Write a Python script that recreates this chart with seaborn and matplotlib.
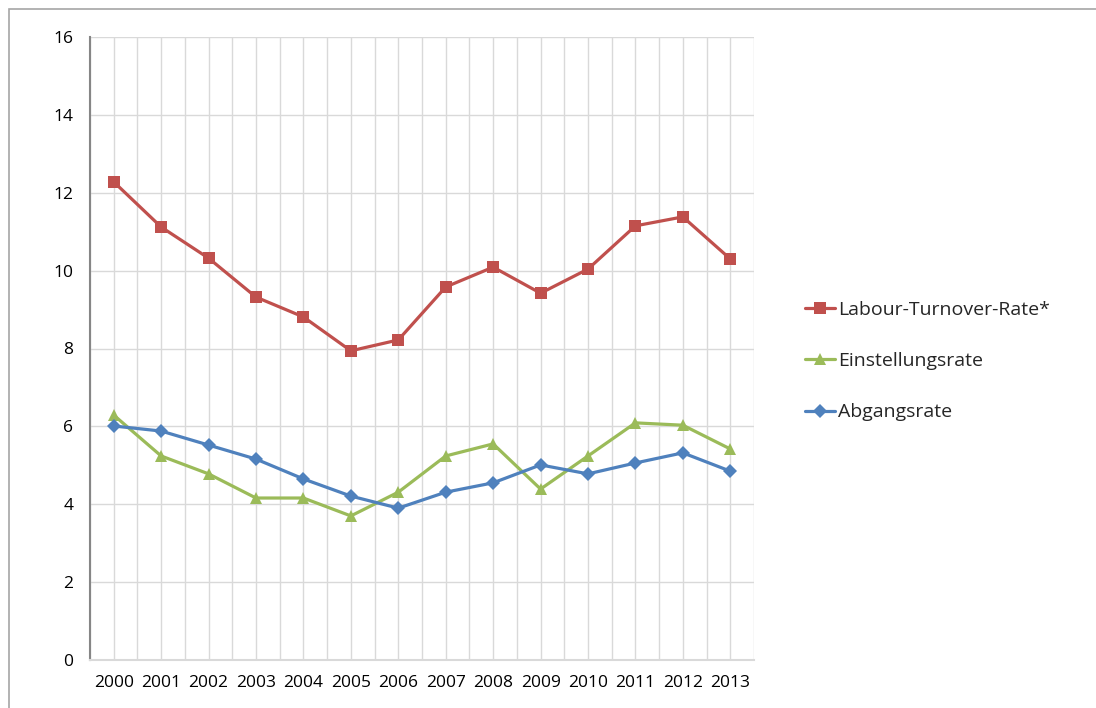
import numpy as np
import pandas as pd
import seaborn as sns
import matplotlib.pyplot as plt
from matplotlib.patches import Rectangle
from matplotlib.lines import Line2D

# Data
years = list(range(2000, 2014))
turnover = [12.28, 11.12, 10.32, 9.32, 8.81, 7.94, 8.22, 9.58, 10.09, 9.42, 10.04, 11.15, 11.38, 10.30]
einstellung = [6.29, 5.24, 4.78, 4.16, 4.16, 3.70, 4.31, 5.24, 5.55, 4.39, 5.24, 6.09, 6.03, 5.42]
abgang = [6.01, 5.88, 5.52, 5.16, 4.65, 4.21, 3.90, 4.31, 4.55, 5.01, 4.78, 5.06, 5.32, 4.85]
series = ['Labour-Turnover-Rate*', 'Einstellungsrate', 'Abgangsrate']
colors = ['#C0504D', '#9BBB59', '#4F81BD']
markers = ['s', '^', 'D']
msizes = [8.5, 9, 7]

df = pd.DataFrame({
    'Jahr': years * 3,
    'Wert': turnover + einstellung + abgang,
    'Serie': [s for s in series for _ in years],
})

sns.set_style('white')
plt.rcParams['font.family'] = ['Open Sans', 'DejaVu Sans']

fig = plt.figure(figsize=(10.96, 7.08), dpi=100)
ax = fig.add_axes([90 / 1096, 1 - 660 / 708, 664 / 1096, 623 / 708])

for s, c, m, ms in zip(series, colors, markers, msizes):
    sns.lineplot(data=df[df['Serie'] == s], x='Jahr', y='Wert', color=c,
                 marker=m, markersize=ms, markeredgewidth=0, linewidth=2.3,
                 ax=ax, zorder=3)

ax.set_xlim(1999.5, 2013.5)
ax.set_ylim(0, 16)
ax.set_xticks(years)
ax.set_xticklabels([str(y) for y in years])
ax.set_xticks(np.arange(1999.5, 2014, 1), minor=True)
ax.set_yticks(range(0, 17, 2))
ax.set_xlabel('')
ax.set_ylabel('')

ax.tick_params(axis='x', which='major', length=0, pad=11, labelsize=12.5, colors='#000000')
ax.tick_params(axis='x', which='minor', length=5, width=1, color='#D9D9D9', direction='out')
ax.tick_params(axis='y', length=4, width=1, color='#868686', direction='out', pad=8,
               labelsize=12.5, labelcolor='#000000')

ax.grid(True, which='both', axis='x', color='#D9D9D9', lw=1)
ax.grid(True, which='major', axis='y', color='#D9D9D9', lw=1)

for side in ['top', 'right']:
    ax.spines[side].set_visible(False)
ax.spines['left'].set_color('#868686')
ax.spines['left'].set_linewidth(1.5)
ax.spines['bottom'].set_color('#D9D9D9')
ax.spines['bottom'].set_linewidth(1.5)

handles = [Line2D([0], [0], color=c, marker=m, markersize=ms, markeredgewidth=0, lw=2.3)
           for c, m, ms in zip(colors, markers, msizes)]
fig.legend(handles, series, loc='center left', bbox_to_anchor=(0.7185, 1 - 361 / 708),
           frameon=False, fontsize=14, labelspacing=1.72, handlelength=1.55,
           handletextpad=0.15)

# chart frame
fig.patches.append(Rectangle((9 / 1096, -0.05), 1.2, 1 - 9 / 708 + 0.05,
                             transform=fig.transFigure, fill=False,
                             edgecolor='#A6A6A6', lw=1.2))

fig.savefig('out.png', dpi=100)
